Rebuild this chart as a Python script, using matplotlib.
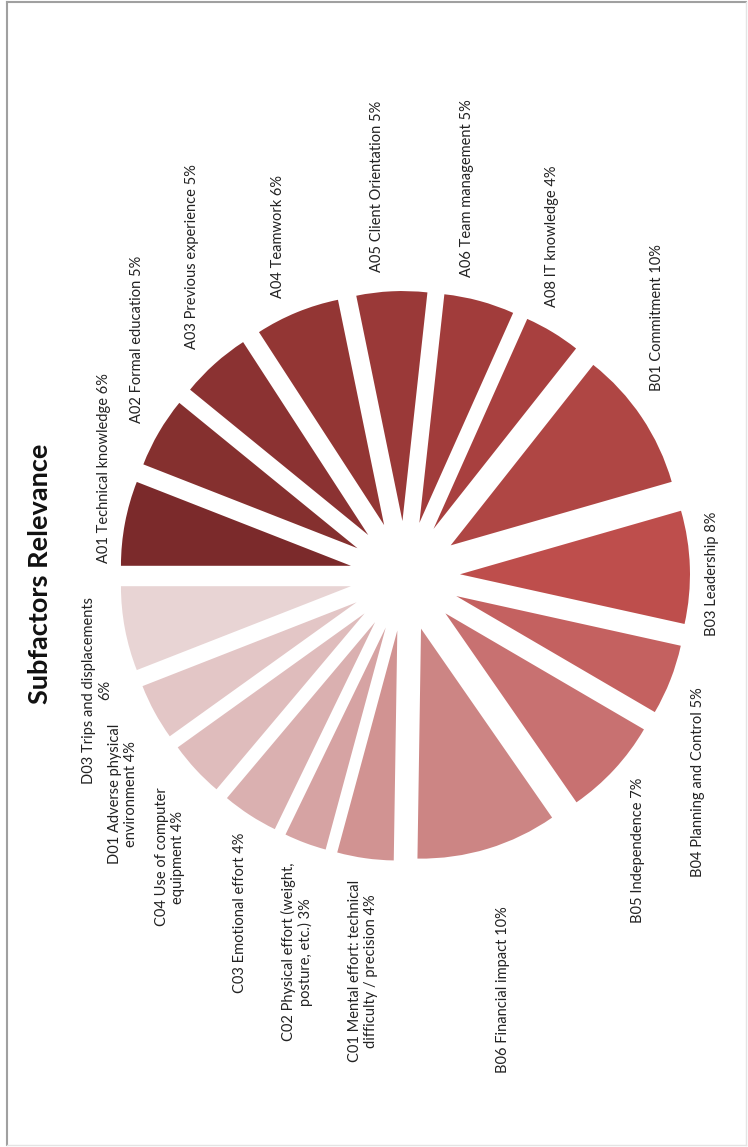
import matplotlib
matplotlib.use("Agg")
import matplotlib.pyplot as plt
from matplotlib.lines import Line2D

# Subfactor weights (percent), in the order they go round the pie
codes = ["A01", "A02", "A03", "A04", "A05", "A06", "A08",
         "B01", "B03", "B04", "B05", "B06",
         "C01", "C02", "C03", "C04", "D01", "D03"]
names = ["Technical knowledge", "Formal education", "Previous experience",
         "Teamwork", "Client Orientation", "Team management", "IT knowledge",
         "Commitment", "Leadership", "Planning and Control", "Independence",
         "Financial impact",
         "Mental effort: technical\ndifficulty / precision",
         "Physical effort (weight,\nposture, etc.)",
         "Emotional effort", "Use of computer\nequipment",
         "Adverse physical\nenvironment", "Trips and displacements\n"]
weights = [6, 5, 5, 6, 5, 5, 4, 10, 8, 5, 7, 10, 4, 3, 4, 4, 4, 6]

# dark red -> light pink shades
colors = ["#7b2a2b", "#85302f", "#8b3232", "#933634", "#9a3938", "#a13c3b",
          "#a8403f", "#af4644", "#be4e4c", "#c46160", "#c87171", "#cc8584",
          "#d19392", "#d6a3a3", "#dab0b0", "#dfbcbc", "#e3c6c6", "#e8d4d4"]

W, H = 748, 1147
# label centres in pixels (x from left, y from top)
label_pos = [(104, 468), (137, 339), (192, 257), (278, 237), (377, 186),
             (467, 188), (552, 236), (657, 318), (712, 574), (698, 782),
             (638, 850), (503, 990), (363, 971), (297, 952), (240, 913),
             (170, 857), (123, 794), (97, 690)]

plt.rcParams["font.family"] = ["Lato", "DejaVu Sans"]

fig = plt.figure(figsize=(W / 100, H / 100), dpi=100)
ax = fig.add_axes([0, 0, 1, 1])

R = 230
gap = 55  # explode offset in pixels
ax.pie(weights, colors=colors, startangle=180, counterclock=False,
       explode=[gap] * len(weights), radius=R, center=(405, H - 576),
       wedgeprops=dict(linewidth=0))

for code, name, w, (x, y) in zip(codes, names, weights, label_pos):
    if name.endswith("\n"):
        txt = f"{code} {name}{w}%"
    else:
        txt = f"{code} {name} {w}%"
    ax.text(x, H - y, txt, rotation=90, ha="center", va="center",
            multialignment="center", fontsize=10.5, color="#222222",
            linespacing=1.15)

ax.text(40, H - 574, "Subfactors Relevance", rotation=90, ha="center",
        va="center", fontsize=19.5, fontweight="bold", color="#111111")

ax.set_xlim(0, W)
ax.set_ylim(0, H)
ax.set_aspect("equal")
ax.axis("off")

# thin frame around the chart area
fig.add_artist(Line2D([7 / W, 746 / W], [1 - 2 / H, 1 - 2 / H], color="#a0a0a0", lw=1.5))
fig.add_artist(Line2D([7 / W, 7 / W], [1 - 2 / H, 1 - 1145 / H], color="#a0a0a0", lw=1.5))
fig.add_artist(Line2D([746 / W, 746 / W], [1 - 2 / H, 1 - 1145 / H], color="#e4e4e4", lw=1))
fig.add_artist(Line2D([7 / W, 746 / W], [1 - 1145 / H, 1 - 1145 / H], color="#e4e4e4", lw=1))

fig.savefig("out.png", dpi=100)
